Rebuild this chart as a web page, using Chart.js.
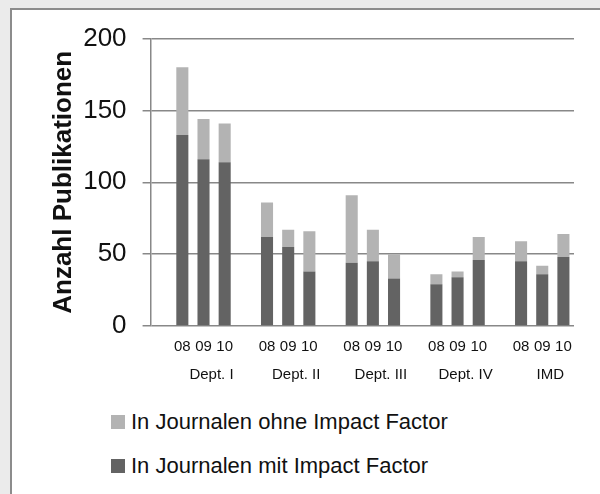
<!DOCTYPE html>
<html>
<head>
<meta charset="utf-8">
<script src="https://cdn.jsdelivr.net/npm/chart.js@4.4.1/dist/chart.umd.min.js"></script>
<style>
    html, body { margin: 0; padding: 0; }
    body {
        width: 600px; height: 494px; overflow: hidden;
        background: #ebebeb;
        font-family: "Liberation Sans", Arial, sans-serif;
    }
    .panel {
        position: absolute; left: 10px; top: 8px;
        width: 620px; height: 520px;
        background: #fff;
        border: 2px solid #8c8c8c;
    }
    .chart-wrap {
        position: absolute; left: 0; top: -3px;
        width: 588px; height: 400px;
    }
    .legend {
        position: absolute; left: 0; top: 0;
    }
    .legend-row {
        position: absolute; left: 99px;
        display: flex; align-items: center;
        white-space: nowrap;
        font-size: 22px; color: #111;
    }
    .legend-row span.box {
        display: inline-block; width: 14px; height: 14px; margin-right: 6px;
    }
</style>
</head>
<body>
<div class="panel">
    <div class="chart-wrap"><canvas id="pubChart"></canvas></div>
    <div class="legend" id="pubLegend"></div>
</div>
<script>
// Data
const departments = ['Dept. I', 'Dept. II', 'Dept. III', 'Dept. IV', 'IMD'];
const years = ['08', '09', '10'];
const mitImpactFactor = [133, 116, 114, 62, 55, 38, 44, 45, 33, 29, 34, 46, 45, 36, 48];
const ohneImpactFactor = [47, 28, 27, 24, 12, 28, 47, 22, 17, 7, 4, 16, 14, 6, 16];
const yTicks = [0, 50, 100, 150, 200];
const seriesNames = ['In Journalen mit Impact Factor', 'In Journalen ohne Impact Factor'];
const seriesColors = ['#636363', '#b3b3b3'];

// each department gets an empty slot in front of its three years
function withSpacers(values) {
    const out = [];
    departments.forEach((d, i) => {
        out.push(null);
        years.forEach((y, j) => out.push(values[i * years.length + j]));
    });
    return out;
}

const labels = withSpacers(departments.flatMap(() => years)).map(v => v || '');

const FONT = '"Liberation Sans", Arial, sans-serif';

// Department names under the year ticks
const deptLabels = {
    id: 'deptLabels',
    afterDraw(chart) {
        const { ctx, chartArea, scales: { x } } = chart;
        ctx.save();
        ctx.font = '15px ' + FONT;
        ctx.fillStyle = '#111';
        ctx.textAlign = 'center';
        ctx.textBaseline = 'middle';
        departments.forEach((d, i) => {
            const px = x.getPixelForValue(i * 4 + 2) + 8;
            ctx.fillText(d, px, chartArea.bottom + 49);
        });
        ctx.restore();
    }
};

const pubChart = new Chart(document.getElementById('pubChart'), {
    type: 'bar',
    data: {
        labels,
        datasets: [
            {
                label: seriesNames[0],
                data: withSpacers(mitImpactFactor),
                backgroundColor: seriesColors[0],
                borderWidth: 0
            },
            {
                label: seriesNames[1],
                data: withSpacers(ohneImpactFactor),
                backgroundColor: seriesColors[1],
                borderWidth: 0
            }
        ]
    },
    options: {
        responsive: true,
        maintainAspectRatio: false,
        animation: false,
        layout: { padding: { left: 32, top: 26, right: 26, bottom: 47 } },
        datasets: { bar: { categoryPercentage: 1, barPercentage: 0.57 } },
        plugins: {
            legend: { display: false },
            tooltip: { enabled: false }
        },
        scales: {
            x: {
                stacked: true,
                grid: { display: false },
                border: { display: false },
                ticks: {
                    color: '#111',
                    font: { family: FONT, size: 15 },
                    autoSkip: false,
                    maxRotation: 0,
                    padding: 4
                }
            },
            y: {
                stacked: true,
                min: 0,
                max: 200,
                afterBuildTicks: scale => { scale.ticks = yTicks.map(v => ({ value: v })); },
                grid: { color: '#888', lineWidth: 1.5, tickLength: 8, tickColor: '#888' },
                border: { display: true, color: '#888', width: 1.5 },
                ticks: {
                    color: '#111',
                    font: { family: FONT, size: 26 },
                    padding: 16
                },
                title: {
                    display: true,
                    text: 'Anzahl Publikationen',
                    color: '#111',
                    font: { family: FONT, size: 26, weight: 'bold' },
                    padding: { top: 4, bottom: -12 }
                }
            }
        }
    },
    plugins: [deptLabels]
});

// Legend, top series first
const legendEl = document.getElementById('pubLegend');
pubChart.data.datasets.slice().reverse().forEach((ds, i) => {
    const row = document.createElement('div');
    row.className = 'legend-row';
    row.style.top = (399 + i * 44) + 'px';
    row.innerHTML = '<span class="box" style="background:' + ds.backgroundColor + '"></span>' + ds.label;
    legendEl.appendChild(row);
});
</script>
</body>
</html>
